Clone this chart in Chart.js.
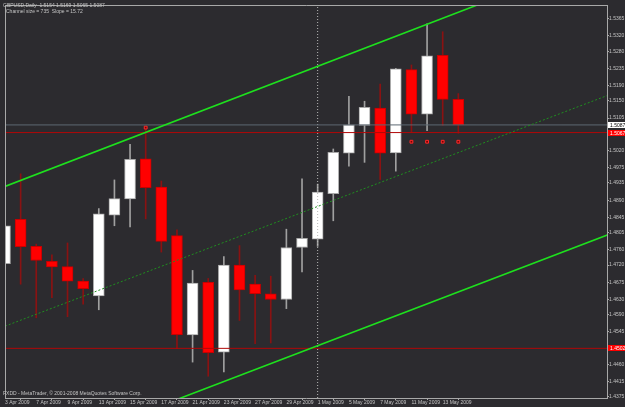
<!DOCTYPE html>
<html><head><meta charset="utf-8">
<script src="https://cdn.jsdelivr.net/npm/chart.js@4"></script>
<style>html,body{margin:0;padding:0;background:#2c2b2f;overflow:hidden}canvas{display:block}</style>
</head><body>
<canvas id="c" width="625" height="407"></canvas>
<script>
// ---- data ----
const dateLabels = ['3 Apr 2009','7 Apr 2009','9 Apr 2009','13 Apr 2009','15 Apr 2009','17 Apr 2009','21 Apr 2009','23 Apr 2009','27 Apr 2009','29 Apr 2009','1 May 2009','5 May 2009','7 May 2009','11 May 2009','13 May 2009'];
const opens  = [1.4724,1.4840,1.4769,1.4730,1.4716,1.4678,1.4639,1.4851,1.4893,1.4998,1.4924,1.4797,1.4537,1.4675,1.4492,1.4720,1.4670,1.4645,1.4630,1.4766,1.4788,1.4907,1.5013,1.5086,1.5131,1.5014,1.5232,1.5115,1.5269,1.5154];
const highs  = [1.4847,1.4959,1.4775,1.4747,1.4778,1.4685,1.4868,1.4943,1.5036,1.5075,1.4940,1.4812,1.4706,1.4685,1.4742,1.4771,1.4693,1.4691,1.4814,1.4946,1.4932,1.5024,1.5162,1.5149,1.5194,1.5235,1.5244,1.5352,1.5331,1.5169];
const lows   = [1.4648,1.4670,1.4582,1.4635,1.4585,1.4618,1.4603,1.4823,1.4820,1.4841,1.4754,1.4501,1.4466,1.4429,1.4440,1.4575,1.4514,1.4516,1.4606,1.4702,1.4769,1.4836,1.4979,1.4989,1.4944,1.4966,1.5067,1.5072,1.5086,1.5065];
const closes = [1.4823,1.4768,1.4732,1.4715,1.4678,1.4658,1.4854,1.4894,1.4997,1.4923,1.4782,1.4538,1.4673,1.4491,1.4720,1.4655,1.4645,1.4630,1.4766,1.4790,1.4911,1.5015,1.5087,1.5133,1.5013,1.5234,1.5115,1.5268,1.5154,1.5087];
const priceTicks = [1.5365,1.5320,1.5280,1.5235,1.5190,1.5150,1.5105,1.5020,1.4975,1.4935,1.4890,1.4845,1.4805,1.4760,1.4720,1.4675,1.4630,1.4590,1.4545,1.4460,1.4415,1.4375];
const bidPrice = 1.5087;
const redLevels = [1.5067, 1.4502];
const markerBars = [9, 26, 27, 28, 29];
const markerPrices = [1.5080, 1.5043, 1.5043, 1.5043, 1.5043];
const channelBars = [0, 40];
const channelUpper = [1.4926, 1.5555];
const channelMiddle = [1.4560, 1.5187];
const channelLower = [1.4196, 1.4822];
const separatorBar = 20;
const titleLine1 = 'GBPUSD,Daily  1.5154 1.5169 1.5065 1.5087';
const titleLine2 = 'Channel size = 735  Slope = 15.72';
const footerText = 'FXDD - MetaTrader, \u00A9 2001-2008 MetaQuotes Software Corp.';

// ---- view ----
const Y_MIN = 1.4372, Y_MAX = 1.5401, X_MIN = 0, X_MAX = 38.51;
const BG = '#2c2b2f', FG = '#c4c4c4', FRAME = '#a8a8a8';
const FONT = '"Liberation Sans", Arial, sans-serif';

const isBull = i => closes[i] >= opens[i];
const bodies = opens.map((o, i) => ({x: i, y: [Math.min(o, closes[i]), Math.max(o, closes[i])]}));
const wicks = lows.map((l, i) => ({x: i, y: [l, highs[i]]}));
const seg = (bars, vals) => bars.map((b, i) => ({x: b, y: vals[i]}));
const hline = v => [{x: X_MIN, y: v}, {x: X_MAX, y: v}];

const framePlugin = {
  id: 'mtframe',
  beforeDraw(chart) {
    const {ctx, width, height} = chart;
    ctx.save(); ctx.fillStyle = BG; ctx.fillRect(0, 0, width, height); ctx.restore();
  },
  afterDraw(chart) {
    const {ctx, chartArea: a, scales: {y}} = chart;
    ctx.save();
    ctx.strokeStyle = FRAME; ctx.lineWidth = 1;
    ctx.beginPath();
    ctx.moveTo(a.left + 0.5, a.bottom); ctx.lineTo(a.left + 0.5, a.top + 0.5); ctx.lineTo(a.right, a.top + 0.5);
    ctx.stroke();
    ctx.font = '5px ' + FONT; ctx.fillStyle = FG; ctx.textBaseline = 'top'; ctx.textAlign = 'left';
    ctx.fillText(titleLine1, 3, 3);
    ctx.fillText(titleLine2, 6, 9);
    ctx.fillText(footerText, 3, 391);
    const box = (v, bg, fg) => {
      const py = Math.round(y.getPixelForValue(v));
      ctx.fillStyle = bg; ctx.fillRect(a.right + 1, py - 3, 18, 6);
      ctx.fillStyle = fg; ctx.textBaseline = 'middle';
      ctx.fillText(v.toFixed(4), a.right + 3, py + 0.5);
    };
    box(bidPrice, '#ffffff', '#000000');
    redLevels.forEach(v => box(v, '#ff0000', '#ffffff'));
    ctx.restore();
  }
};

new Chart(document.getElementById('c'), {
  type: 'bar',
  data: {
    datasets: [
      { type: 'line', data: seg(channelBars, channelUpper), borderColor: '#1ee01e', borderWidth: 1.6, pointRadius: 0, order: 0 },
      { type: 'line', data: seg(channelBars, channelLower), borderColor: '#1ee01e', borderWidth: 1.6, pointRadius: 0, order: 0 },
      { type: 'line', data: seg(channelBars, channelMiddle), borderColor: '#1f8f1f', borderWidth: 1, borderDash: [2, 2], pointRadius: 0, order: 0 },
      { type: 'line', data: hline(bidPrice), borderColor: '#5d6872', borderWidth: 1, pointRadius: 0, order: 0 },
      { type: 'line', data: hline(redLevels[0]), borderColor: '#b00808', borderWidth: 1, pointRadius: 0, order: 0 },
      { type: 'line', data: hline(redLevels[1]), borderColor: '#b00808', borderWidth: 1, pointRadius: 0, order: 0 },
      { type: 'line', data: [{x: separatorBar, y: Y_MIN}, {x: separatorBar, y: Y_MAX}], borderColor: '#b8b8b8', borderWidth: 1, borderDash: [1, 2], pointRadius: 0, order: 0 },
      { type: 'line', data: seg(markerBars, markerPrices), showLine: false, pointStyle: 'rect', pointRadius: 2, pointBackgroundColor: '#7a0000', pointBorderColor: '#ff2a2a', pointBorderWidth: 1, order: 0 },
      { data: bodies, barThickness: 11, grouped: false, borderSkipped: false, borderWidth: 1,
        backgroundColor: c => isBull(c.dataIndex || 0) ? '#ffffff' : '#ff0000',
        borderColor: c => isBull(c.dataIndex || 0) ? '#a8a8a8' : '#c80000', order: 1 },
      { data: wicks, barThickness: 1, grouped: false, borderWidth: 0, borderSkipped: false,
        backgroundColor: c => isBull(c.dataIndex || 0) ? '#a0a0a0' : '#8a1212', order: 2 }
    ]
  },
  options: {
    responsive: false, devicePixelRatio: 1, animation: false, events: [],
    layout: { padding: { left: 2, top: 1, right: 0, bottom: 0 } },
    plugins: { legend: { display: false }, tooltip: { enabled: false } },
    scales: {
      x: {
        type: 'linear', min: X_MIN, max: X_MAX, offset: false,
        afterBuildTicks: s => { s.ticks = dateLabels.map((_, i) => ({value: i * 2})); },
        afterFit: s => { s.height = 9; s.paddingLeft = 0; s.paddingRight = 0; },
        ticks: { callback: v => dateLabels[Math.round(v / 2)], align: 'start', autoSkip: false, maxRotation: 0, padding: 0, color: FG, font: { size: 5, family: FONT } },
        grid: { drawOnChartArea: false, tickLength: 2, color: FRAME },
        border: { color: FRAME }
      },
      y: {
        position: 'right', min: Y_MIN, max: Y_MAX,
        afterBuildTicks: s => { s.ticks = priceTicks.map(v => ({value: v})); },
        afterFit: s => { s.width = 18; s.paddingTop = 0; s.paddingBottom = 0; },
        ticks: { callback: v => Number(v).toFixed(4), autoSkip: false, padding: 0, color: FG, font: { size: 5, family: FONT } },
        grid: { drawOnChartArea: false, tickLength: 2, color: FRAME },
        border: { color: FRAME }
      }
    }
  },
  plugins: [framePlugin]
});
</script>
</body></html>
